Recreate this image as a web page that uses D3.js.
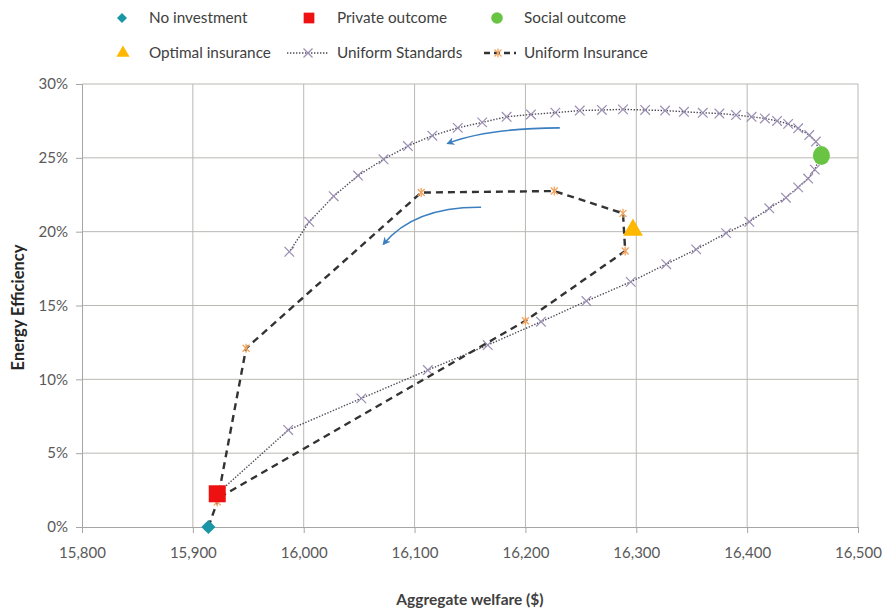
<!DOCTYPE html>
<html>
<head>
<meta charset="utf-8">
<script src="https://cdn.jsdelivr.net/npm/d3@7"></script>
<style>
  html, body { margin: 0; padding: 0; background: #fff; }
  svg { display: block; font-family: Lato, "Open Sans", "DejaVu Sans", sans-serif; }
</style>
</head>
<body>
<svg id="chart" width="885" height="614"></svg>
<script>
// ---------- DATA ----------
const xTicks = [15800, 15900, 16000, 16100, 16200, 16300, 16400, 16500];
const yTicks = [0, 0.05, 0.10, 0.15, 0.20, 0.25, 0.30];

const noInvestment = [[15914, 0.000]];
const privateOutcome = [[15922, 0.0225]];
const socialOutcome = [[16467, 0.2515]];
const optimalInsurance = [[16297, 0.2005]];

const uniformStandards = [
  [15922, 0.0225], [15986, 0.0657], [16052, 0.0871], [16112, 0.1063], [16166, 0.1232],
  [16214, 0.1390], [16255, 0.1530], [16295, 0.1660], [16327, 0.1780], [16354, 0.1880],
  [16381, 0.1990], [16402, 0.2067], [16420, 0.2158], [16435, 0.2230], [16446, 0.2300],
  [16455, 0.2360], [16461, 0.2420], [16466, 0.2515], [16462, 0.2610], [16456, 0.2654],
  [16446, 0.2700], [16437, 0.2730], [16427, 0.2750], [16416, 0.2767], [16404, 0.2778],
  [16390, 0.2790], [16375, 0.2800], [16360, 0.2805], [16343, 0.2812], [16326, 0.2820],
  [16308, 0.2824], [16288, 0.2828], [16269, 0.2824], [16249, 0.2820], [16227, 0.2806],
  [16205, 0.2794], [16183, 0.2778], [16161, 0.2740], [16139, 0.2703], [16116, 0.2650],
  [16094, 0.2580], [16072, 0.2490], [16049, 0.2380], [16027, 0.2240], [16005, 0.2067],
  [15987, 0.1864]
];

const uniformInsurance = [
  [15914, 0.000], [15922, 0.017], [15948, 0.121], [16106, 0.2265], [16226, 0.2275],
  [16288, 0.2124], [16290, 0.1869], [16200, 0.1397], [15924, 0.020]
];

// annotation arrows: [start, control, end] in data units
const arrows = [
  [[16231, 0.2703], [16165, 0.2700], [16130, 0.2598]],
  [[16160, 0.2165], [16100, 0.2170], [16072, 0.1916]]
];

const legendLabels = ["No investment", "Private outcome", "Social outcome",
                      "Optimal insurance", "Uniform Standards", "Uniform Insurance"];

// ---------- SETUP ----------
const svg = d3.select("#chart");
const x = d3.scaleLinear().domain([15800, 16500]).range([82, 858]);
const y = d3.scaleLinear().domain([0, 0.30]).range([527, 84]);

const gridColor = "#bab8b3";
const labelColor = "#595959";

// gridlines
svg.append("g").selectAll("line").data(yTicks.filter(d => d > 0)).join("line")
  .attr("x1", x(15800)).attr("x2", x(16500))
  .attr("y1", d => y(d)).attr("y2", d => y(d))
  .attr("stroke", gridColor).attr("stroke-width", 1);
svg.append("g").selectAll("line").data(xTicks.filter(d => d > 15800)).join("line")
  .attr("x1", d => x(d)).attr("x2", d => x(d))
  .attr("y1", y(0)).attr("y2", y(0.30))
  .attr("stroke", gridColor).attr("stroke-width", 1);

// axes
const xAxis = d3.axisBottom(x).tickValues(xTicks).tickFormat(d3.format(",")).tickSize(6).tickPadding(14);
const yAxis = d3.axisLeft(y).tickValues(yTicks).tickFormat(d3.format(".0%")).tickSize(6).tickPadding(8);

const gx = svg.append("g").attr("transform", `translate(0,${y(0)})`).call(xAxis);
const gy = svg.append("g").attr("transform", `translate(${x(15800)},0)`).call(yAxis);
[gx, gy].forEach(g => {
  g.select(".domain").attr("stroke", "#a6a6a6");
  g.selectAll(".tick line").attr("stroke", "#a6a6a6");
  g.selectAll(".tick text").attr("fill", labelColor).style("font-size", "15px")
    .style("font-family", "Lato, 'Open Sans', sans-serif");
});

// axis titles
svg.append("text").attr("x", (x(15800) + x(16500)) / 2).attr("y", 605)
  .attr("text-anchor", "middle").style("font-size", "15.5px").style("font-weight", "bold")
  .attr("fill", "#404040").text("Aggregate welfare ($)");
svg.append("text").attr("transform", `translate(24,${(y(0) + y(0.30)) / 2 + 2}) rotate(-90)`)
  .attr("text-anchor", "middle").style("font-size", "16.5px").style("font-weight", "bold")
  .attr("fill", "#262626").text("Energy Efficiency");

// ---------- SERIES ----------
const line = d3.line().x(d => x(d[0])).y(d => y(d[1]));

// Uniform Standards
svg.append("path").datum(uniformStandards).attr("d", line)
  .attr("fill", "none").attr("stroke", "#4d4a57").attr("stroke-width", 1.4)
  .attr("stroke-dasharray", "1.4,1.6");

function xMark(g, cx, cy, s, color, w) {
  g.append("line").attr("x1", cx - s).attr("y1", cy - s).attr("x2", cx + s).attr("y2", cy + s)
    .attr("stroke", color).attr("stroke-width", w);
  g.append("line").attr("x1", cx - s).attr("y1", cy + s).attr("x2", cx + s).attr("y2", cy - s)
    .attr("stroke", color).attr("stroke-width", w);
}
function starMark(g, cx, cy, s, color, w) {
  xMark(g, cx, cy, s, color, w);
  g.append("line").attr("x1", cx).attr("y1", cy - s - 1).attr("x2", cx).attr("y2", cy + s + 1)
    .attr("stroke", color).attr("stroke-width", w);
}

const gUS = svg.append("g");
uniformStandards.forEach(d => xMark(gUS, x(d[0]), y(d[1]), 4.8, "#9a8db2", 1.2));

// Uniform Insurance
svg.append("path").datum(uniformInsurance).attr("d", line)
  .attr("fill", "none").attr("stroke", "#333333").attr("stroke-width", 2.4)
  .attr("stroke-dasharray", "7,5");
const gUI = svg.append("g");
uniformInsurance.forEach(d => starMark(gUI, x(d[0]), y(d[1]), 3.5, "#f2a35e", 1.3));

// arrows
const defs = svg.append("defs");
defs.append("marker").attr("id", "ah").attr("viewBox", "0 0 10 10")
  .attr("refX", 8).attr("refY", 5).attr("markerWidth", 8).attr("markerHeight", 8)
  .attr("markerUnits", "userSpaceOnUse").attr("orient", "auto")
  .append("path").attr("d", "M0,0 L10,5 L0,10 L3,5 Z").attr("fill", "#3b7fc0");
arrows.forEach(a => {
  const p = d3.path();
  p.moveTo(x(a[0][0]), y(a[0][1]));
  p.quadraticCurveTo(x(a[1][0]), y(a[1][1]), x(a[2][0]), y(a[2][1]));
  svg.append("path").attr("d", p.toString()).attr("fill", "none")
    .attr("stroke", "#3b7fc0").attr("stroke-width", 1.6).attr("marker-end", "url(#ah)");
});

// point series
const sym = (type, size) => d3.symbol().type(type).size(size)();
svg.selectAll("path.noinv").data(noInvestment).join("path")
  .attr("transform", d => `translate(${x(d[0])},${y(d[1])}) rotate(45)`)
  .attr("d", sym(d3.symbolSquare, 100)).attr("fill", "#1a97a6");
svg.selectAll("path.priv").data(privateOutcome).join("path")
  .attr("transform", d => `translate(${x(d[0])},${y(d[1])})`)
  .attr("d", sym(d3.symbolSquare, 290)).attr("fill", "#ee1111");
svg.selectAll("ellipse.soc").data(socialOutcome).join("ellipse")
  .attr("cx", d => x(d[0])).attr("cy", d => y(d[1])).attr("rx", 8.5).attr("ry", 9.5)
  .attr("fill", "#6ac443");
svg.selectAll("path.opt").data(optimalInsurance).join("path")
  .attr("transform", d => `translate(${x(d[0])},${y(d[1]) - 1})`)
  .attr("d", sym(d3.symbolTriangle, 170)).attr("fill", "#ffb700");

// ---------- LEGEND ----------
const lg = svg.append("g").style("font-size", "15.3px").attr("fill", "#404040");
const row1 = 18, row2 = 53;
lg.append("path").attr("transform", `translate(122,${row1}) rotate(45)`)
  .attr("d", sym(d3.symbolSquare, 50)).attr("fill", "#1a97a6");
lg.append("path").attr("transform", `translate(309,${row1})`)
  .attr("d", sym(d3.symbolSquare, 115)).attr("fill", "#ee1111");
lg.append("circle").attr("cx", 497).attr("cy", row1).attr("r", 5.8).attr("fill", "#6ac443");
lg.append("path").attr("transform", `translate(123,${row2})`)
  .attr("d", sym(d3.symbolTriangle, 75)).attr("fill", "#ffb700");
lg.append("line").attr("x1", 287).attr("x2", 328).attr("y1", row2).attr("y2", row2)
  .attr("stroke", "#4d4a57").attr("stroke-width", 1.4).attr("stroke-dasharray", "1.4,1.6");
xMark(lg, 308, row2, 4.5, "#9a8db2", 1.2);
lg.append("line").attr("x1", 484).attr("x2", 516).attr("y1", row2).attr("y2", row2)
  .attr("stroke", "#333").attr("stroke-width", 2.4).attr("stroke-dasharray", "6,4");
starMark(lg, 498, row2, 3.5, "#f2a35e", 1.3);

const legendPos = [[149, row1], [337, row1], [524, row1], [149, row2], [337, row2], [524, row2]];
legendLabels.forEach((t, i) => {
  lg.append("text").attr("x", legendPos[i][0]).attr("y", legendPos[i][1]).attr("dy", "0.35em").text(t);
});
</script>
</body>
</html>
